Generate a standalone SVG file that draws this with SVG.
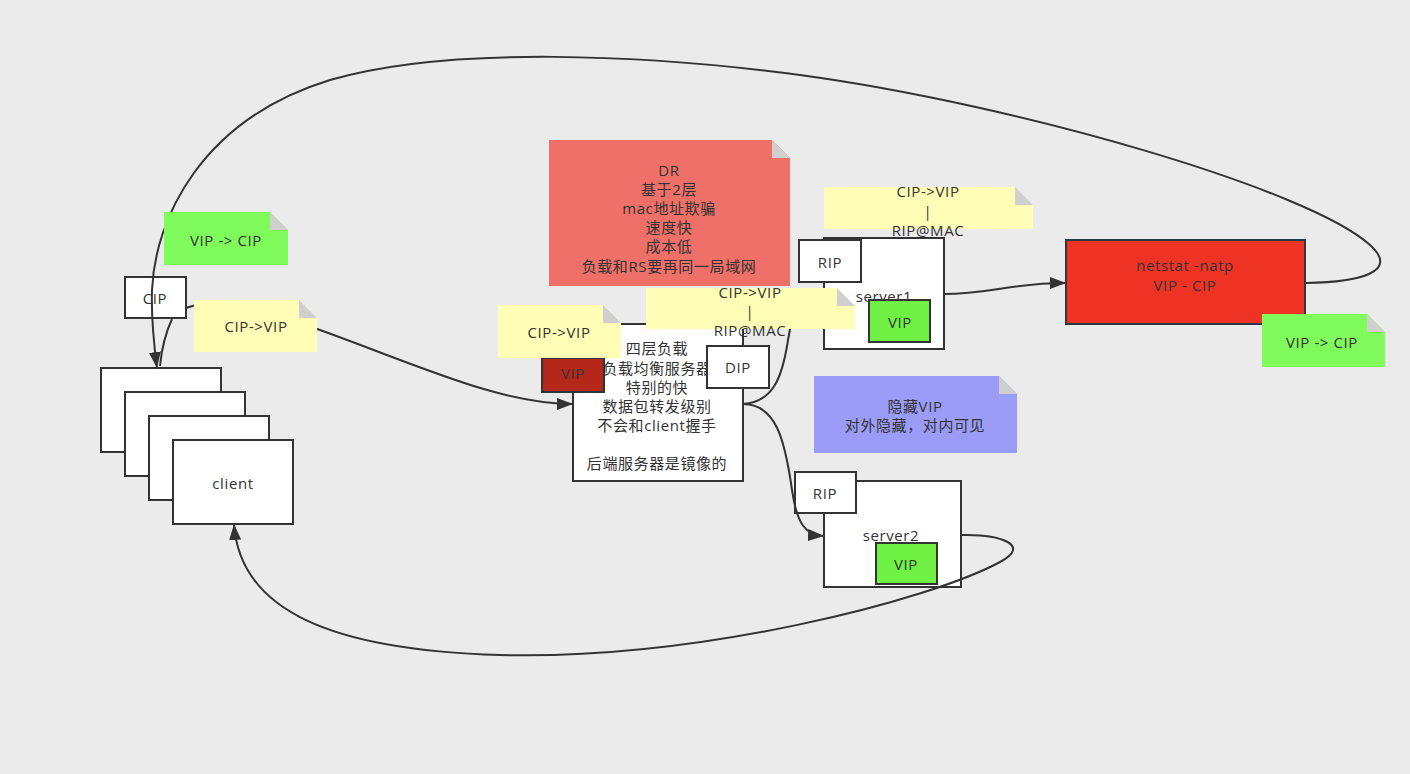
<svg xmlns="http://www.w3.org/2000/svg" width="1410" height="774" viewBox="0 0 1410 774">
<defs>
<style>
text{font-family:"Open Sans","Noto Sans CJK SC","Liberation Sans",sans-serif;font-size:15px;letter-spacing:0.6px;fill:#333;text-anchor:middle;dominant-baseline:central}
.box{fill:#fff;stroke:#333;stroke-width:2}
.vipg{fill:#6ff244;stroke:#333;stroke-width:2}
.edge{fill:none;stroke:#333;stroke-width:2}
.fold{fill:#cfcfcf}
.ny{fill:#fffdb6}
.ng{fill:#7ffb5c}
.nr{fill:#ee7068}
.nb{fill:#9a9cf8}
</style>
<marker id="arr" viewBox="0 0 16 12" refX="16" refY="6" markerWidth="16" markerHeight="12" markerUnits="userSpaceOnUse" orient="auto">
<path d="M0,0 L16,6 L0,12 Z" fill="#333"/>
</marker>
</defs>
<rect width="1410" height="774" fill="#ebebeb"/>

<g id="client">
<rect class="box" x="101" y="368" width="120" height="84"/>
<rect class="box" x="125" y="392" width="120" height="84"/>
<rect class="box" x="149" y="416" width="120" height="84"/>
<rect class="box" x="173" y="440" width="120" height="84"/>
<text x="233" y="483">client</text>
</g>

<g id="cip">
<rect class="box" x="125" y="277" width="61" height="41"/>
<text x="155" y="298">CIP</text>
</g>

<g id="lb">
<rect class="box" x="573" y="324" width="170" height="157"/>
<text x="657" y="348">四层负载</text>
<text x="657" y="368">负载均衡服务器</text>
<text x="657" y="387">特别的快</text>
<text x="657" y="406">数据包转发级别</text>
<text x="657" y="425">不会和client握手</text>
<text x="657" y="463">后端服务器是镜像的</text>
</g>
<g id="lb-vip">
<rect x="542" y="358" width="62" height="34" fill="#b5271b" stroke="#2a3838" stroke-width="2"/>
<text x="573" y="373">VIP</text>
</g>
<g id="lb-dip">
<rect class="box" x="707" y="346" width="62" height="42"/>
<text x="738" y="367">DIP</text>
</g>

<g id="server1">
<rect class="box" x="824" y="238" width="120" height="111"/>
<text x="884" y="296">server1</text>
</g>
<g id="server1-rip">
<rect class="box" x="799" y="240" width="62" height="42"/>
<text x="830" y="262">RIP</text>
</g>
<g id="server1-vip">
<rect class="vipg" x="869" y="300" width="61" height="42"/>
<text x="900" y="322">VIP</text>
</g>

<g id="server2">
<rect class="box" x="824" y="481" width="137" height="106"/>
<text x="891" y="535">server2</text>
</g>
<g id="server2-rip">
<rect class="box" x="795" y="472" width="61" height="41"/>
<text x="825" y="493">RIP</text>
</g>
<g id="server2-vip">
<rect class="vipg" x="876" y="543" width="61" height="41"/>
<text x="906" y="564">VIP</text>
</g>

<g id="netstat">
<rect x="1066" y="240" width="239" height="84" fill="#ee3224" stroke="#2b3a40" stroke-width="2"/>
<text x="1185" y="265">netstat -natp</text>
<text x="1185" y="285">VIP - CIP</text>
</g>

<g id="connectors">
<path class="edge" d="M172,319 C166,332 162,345 160,366"/>
<path class="edge" marker-end="url(#arr)" d="M186,308 C210,298 250,305 320,330 C420,366 500,404 573,404"/>
<path class="edge" marker-end="url(#arr)" d="M743,404 C772,402 782,380 788,340 C792,310 805,300 824,298"/>
<path class="edge" marker-end="url(#arr)" d="M743,404 C776,404 785,440 792,490 C797,525 806,535 824,536"/>
<path class="edge" marker-end="url(#arr)" d="M944,294 C990,294 1010,283 1066,283"/>
<path class="edge" marker-end="url(#arr)" d="M1306,283 C1360,282 1400,272 1370,245 C1310,190 1020,105 800,75 C650,55 450,45 330,80 C200,120 155,220 152,290 C151,320 154,345 157,368"/>
<path class="edge" marker-end="url(#arr)" d="M961,535 C1000,534 1032,545 1000,562 C930,600 700,660 500,655 C330,650 240,610 234,524"/>
</g>

<g id="note-dr">
<path class="nr" d="M549,140 H772 L790,158 V286 H549 Z"/>
<path class="fold" d="M772,140 V158 H790 Z"/>
<text x="669" y="170">DR</text>
<text x="669" y="189">基于2层</text>
<text x="669" y="208">mac地址欺骗</text>
<text x="669" y="227">速度快</text>
<text x="669" y="246">成本低</text>
<text x="669" y="266">负载和RS要再同一局域网</text>
</g>

<g id="note-vipcip1">
<path class="ng" d="M164,212 H270 L288,230 V265 H164 Z"/>
<path class="fold" d="M270,212 V230 H288 Z"/>
<text x="226" y="240">VIP -&gt; CIP</text>
</g>

<g id="note-cipvip1">
<path class="ny" d="M194,300 H299 L317,318 V352 H194 Z"/>
<path class="fold" d="M299,300 V318 H317 Z"/>
<text x="256" y="326">CIP-&gt;VIP</text>
</g>

<g id="note-cipvip2">
<path class="ny" d="M498,305 H603 L621,323 V358 H498 Z"/>
<path class="fold" d="M603,305 V323 H621 Z"/>
<text x="559" y="332">CIP-&gt;VIP</text>
</g>

<g id="note-ripmac1">
<path class="ny" d="M646,288 H837 L855,306 V329 H646 Z"/>
<path class="fold" d="M837,288 V306 H855 Z"/>
<text x="750" y="292">CIP-&gt;VIP</text>
<text x="750" y="311">|</text>
<text x="750" y="330">RIP@MAC</text>
</g>

<g id="note-ripmac2">
<path class="ny" d="M824,187 H1015 L1033,205 V229 H824 Z"/>
<path class="fold" d="M1015,187 V205 H1033 Z"/>
<text x="928" y="191">CIP-&gt;VIP</text>
<text x="928" y="211">|</text>
<text x="928" y="230">RIP@MAC</text>
</g>

<g id="note-vipcip2">
<path class="ng" d="M1262,314 H1367 L1385,332 V367 H1262 Z"/>
<path class="fold" d="M1367,314 V332 H1385 Z"/>
<text x="1322" y="342">VIP -&gt; CIP</text>
</g>

<g id="note-hidden">
<path class="nb" d="M814,376 H999 L1017,394 V453 H814 Z"/>
<path class="fold" d="M999,376 V394 H1017 Z"/>
<text x="915" y="406">隐藏VIP</text>
<text x="915" y="425">对外隐藏，对内可见</text>
</g>
</svg>
